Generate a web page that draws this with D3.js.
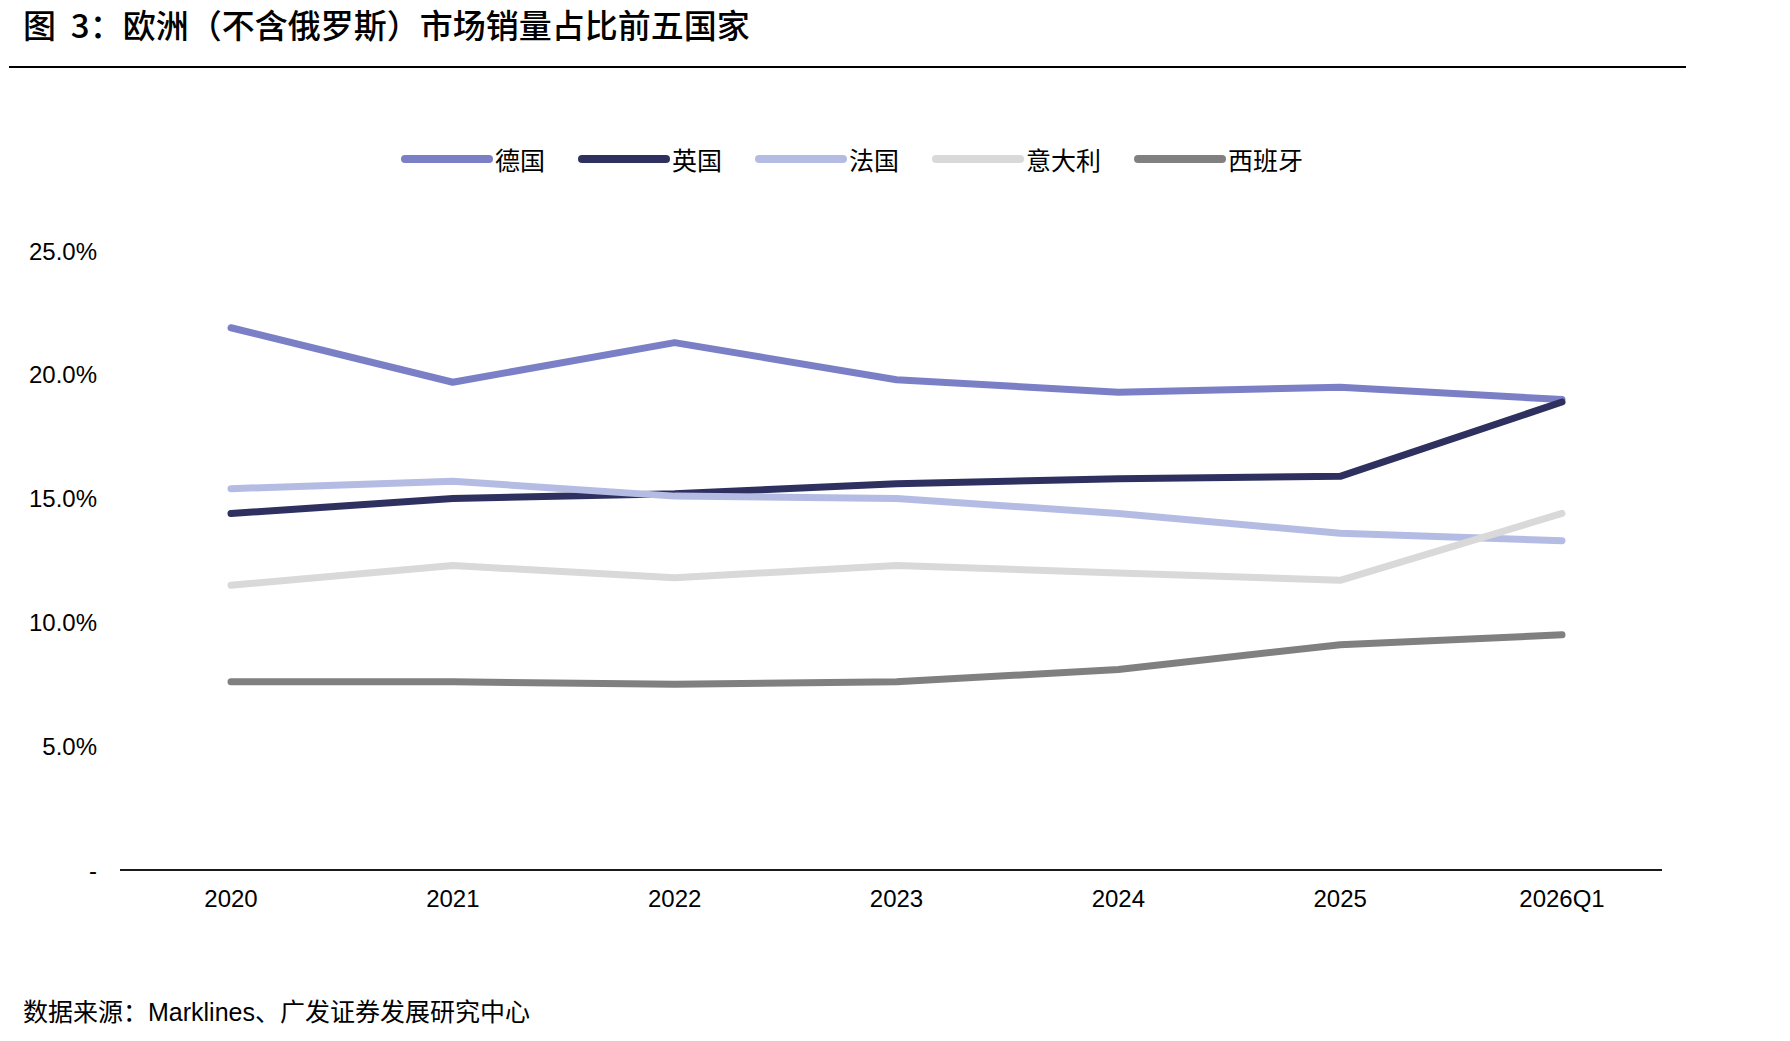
<!DOCTYPE html>
<html>
<head>
<meta charset="utf-8">
<script src="https://cdn.jsdelivr.net/npm/d3@7"></script>
<style>
  body { margin: 0; background: #fff; }
  text { font-family: "Liberation Sans", Arial, "Noto Sans CJK SC", sans-serif; }
</style>
</head>
<body>
<script>
// data (share of sales, %)
const years = ["2020", "2021", "2022", "2023", "2024", "2025", "2026Q1"];
const seriesNames = ["德国", "英国", "法国", "意大利", "西班牙"];
const germany = [21.9, 19.7, 21.3, 19.8, 19.3, 19.5, 19.0];
const uk = [14.4, 15.0, 15.2, 15.6, 15.8, 15.9, 18.9];
const france = [15.4, 15.7, 15.1, 15.0, 14.4, 13.6, 13.3];
const italy = [11.5, 12.3, 11.8, 12.3, 12.0, 11.7, 14.4];
const spain = [7.6, 7.6, 7.5, 7.6, 8.1, 9.1, 9.5];
const yTicks = [0, 5, 10, 15, 20, 25];

const colors = ["#7b7fc6", "#2e3060", "#b5bce3", "#d9d9d9", "#808080"];

const width = 1790;
const height = 1041;

const series = [germany, uk, france, italy, spain].map((vals, i) => ({
    name: seriesNames[i],
    color: colors[i],
    values: vals.map((v, j) => ({ year: years[j], value: v }))
}));

const svg = d3.select("body").append("svg")
    .attr("width", width)
    .attr("height", height);

// title + rule
svg.append("text")
    .attr("x", 23)
    .attr("y", 24)
    .attr("dominant-baseline", "central")
    .attr("font-size", "33px")
    .attr("font-weight", 500)
    .style("font-family", "'Noto Sans CJK SC', sans-serif")
    .style("white-space", "pre")
    .text("图  3：欧洲（不含俄罗斯）市场销量占比前五国家");

svg.append("line")
    .attr("x1", 9).attr("x2", 1686)
    .attr("y1", 67).attr("y2", 67)
    .attr("stroke", "#000")
    .attr("stroke-width", 2);

const x = d3.scalePoint()
    .domain(years)
    .range([231, 1562]);

const y = d3.scaleLinear()
    .domain([0, 25])
    .range([870, 251]);

// y tick labels
svg.append("g")
    .selectAll("text")
    .data(yTicks)
    .join("text")
    .attr("x", 97)
    .attr("y", d => y(d))
    .attr("text-anchor", "end")
    .attr("dominant-baseline", "central")
    .attr("font-size", "24px")
    .attr("fill", "#000")
    .text(d => d === 0 ? "-" : d3.format(".1f")(d) + "%");

// x axis line
svg.append("line")
    .attr("x1", 120).attr("x2", 1662)
    .attr("y1", y(0)).attr("y2", y(0))
    .attr("stroke", "#1a1a1a")
    .attr("stroke-width", 2);

svg.append("g")
    .selectAll("text")
    .data(years)
    .join("text")
    .attr("x", d => x(d))
    .attr("y", 898)
    .attr("text-anchor", "middle")
    .attr("dominant-baseline", "central")
    .attr("font-size", "24px")
    .attr("fill", "#000")
    .text(d => d);

// lines
const line = d3.line()
    .x(d => x(d.year))
    .y(d => y(d.value));

svg.append("g")
    .selectAll("path")
    .data(series)
    .join("path")
    .attr("d", d => line(d.values))
    .attr("fill", "none")
    .attr("stroke", d => d.color)
    .attr("stroke-width", 7)
    .attr("stroke-linecap", "round")
    .attr("stroke-linejoin", "round");

// legend
const legendX = [405, 582, 759, 936, 1138];
const legend = svg.append("g")
    .selectAll("g")
    .data(series)
    .join("g")
    .attr("transform", (d, i) => `translate(${legendX[i]}, 159)`);

legend.append("line")
    .attr("x1", 0).attr("x2", 84)
    .attr("stroke", d => d.color)
    .attr("stroke-width", 8)
    .attr("stroke-linecap", "round");

legend.append("text")
    .attr("x", 90)
    .attr("dominant-baseline", "central")
    .attr("font-size", "25px")
    .style("font-family", "'Noto Sans CJK SC', sans-serif")
    .attr("fill", "#000")
    .text(d => d.name);

// source note
svg.append("text")
    .attr("x", 23)
    .attr("y", 1012)
    .attr("dominant-baseline", "central")
    .attr("font-size", "25px")
    .attr("fill", "#000")
    .text("数据来源：Marklines、广发证券发展研究中心");
</script>
</body>
</html>
